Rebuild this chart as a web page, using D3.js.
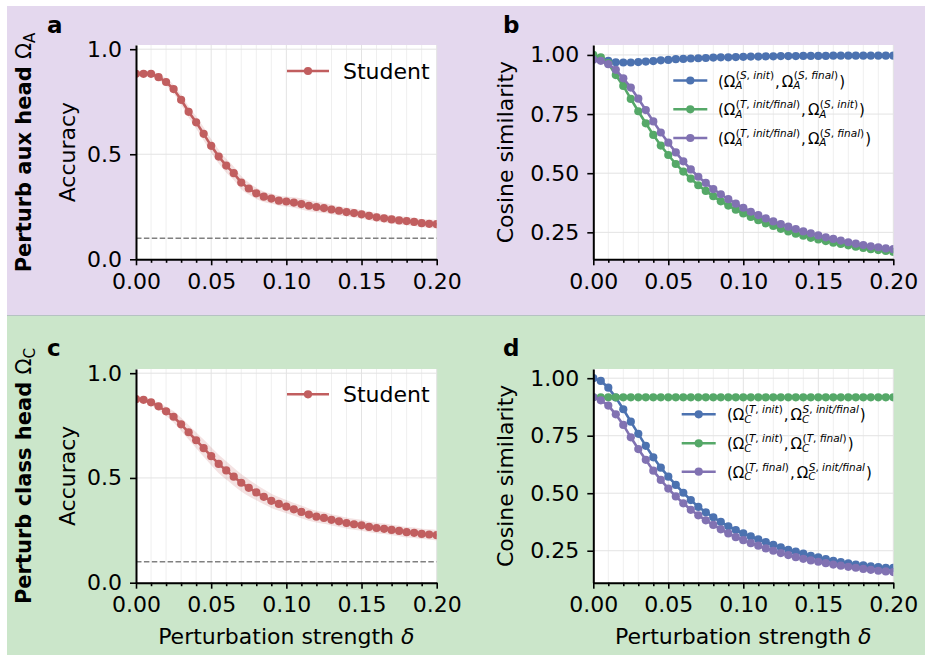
<!DOCTYPE html>
<html><head><meta charset="utf-8">
<script src="https://cdn.jsdelivr.net/npm/d3@7"></script>
<style>
body{margin:0;background:#fff}
text{font-family:"DejaVu Sans",sans-serif;fill:#000}
</style>
</head><body>
<svg id="chart" width="925" height="656"></svg>
<script>
// ---------------- DATA ----------------
const deltas = [0.000,0.005,0.010,0.015,0.020,0.025,0.030,0.035,0.040,0.045,
  0.050,0.055,0.060,0.065,0.070,0.075,0.080,0.085,0.090,0.095,
  0.100,0.105,0.110,0.115,0.120,0.125,0.130,0.135,0.140,0.145,
  0.150,0.155,0.160,0.165,0.170,0.175,0.180,0.185,0.190,0.195,0.200];
const xTicks = [0.00, 0.05, 0.10, 0.15, 0.20];
const accTicks = [0.0, 0.5, 1.0];
const cosTicks = [0.25, 0.50, 0.75, 1.00];
const chanceLevel = 0.1;

// panel a: student accuracy, perturbing aux head
const accAux = [0.883,0.883,0.883,0.867,0.844,0.810,0.759,0.702,0.652,0.597,
  0.540,0.489,0.446,0.410,0.365,0.337,0.314,0.298,0.289,0.279,
  0.275,0.270,0.263,0.255,0.249,0.244,0.237,0.231,0.225,0.220,
  0.214,0.207,0.200,0.195,0.190,0.185,0.182,0.178,0.172,0.169,0.167];
const accAuxBand = [0.012,0.012,0.013,0.015,0.018,0.021,0.024,0.027,0.029,0.031,
  0.032,0.033,0.033,0.032,0.031,0.029,0.027,0.025,0.024,0.024,
  0.024,0.025,0.026,0.026,0.025,0.024,0.023,0.022,0.021,0.021,
  0.021,0.021,0.020,0.020,0.020,0.020,0.020,0.020,0.020,0.020,0.020];
// panel c: student accuracy, perturbing class head
const accCls = [0.876,0.873,0.861,0.842,0.818,0.792,0.756,0.718,0.680,0.642,
  0.604,0.567,0.536,0.506,0.477,0.453,0.431,0.410,0.391,0.376,
  0.363,0.350,0.338,0.325,0.315,0.309,0.300,0.293,0.285,0.279,
  0.274,0.266,0.261,0.257,0.252,0.247,0.241,0.238,0.233,0.230,0.227];
const accClsBand = [0.010,0.011,0.014,0.018,0.022,0.027,0.031,0.035,0.038,0.041,
  0.043,0.044,0.044,0.043,0.042,0.040,0.038,0.036,0.034,0.033,
  0.032,0.031,0.030,0.029,0.028,0.028,0.027,0.027,0.026,0.026,
  0.026,0.025,0.025,0.025,0.025,0.025,0.025,0.025,0.025,0.025,0.025];

// panel b: cosine similarity, aux head
const cosA_SinitSfinal = [0.982,0.979,0.975,0.969,0.968,0.968,0.970,0.972,0.974,0.977,
  0.979,0.982,0.983,0.985,0.986,0.987,0.989,0.990,0.990,0.991,
  0.992,0.993,0.993,0.994,0.994,0.995,0.995,0.995,0.996,0.996,
  0.996,0.996,0.997,0.997,0.997,0.997,0.997,0.997,0.997,0.997,0.997];
const cosA_TSinit = [1.000,0.990,0.965,0.915,0.869,0.814,0.762,0.711,0.662,0.617,
  0.577,0.539,0.507,0.477,0.449,0.425,0.403,0.381,0.363,0.346,
  0.330,0.315,0.301,0.288,0.277,0.265,0.254,0.244,0.236,0.227,
  0.220,0.213,0.206,0.201,0.195,0.189,0.184,0.179,0.175,0.171,0.167];
const cosA_TSfinal = [0.980,0.975,0.961,0.937,0.901,0.862,0.815,0.767,0.719,0.672,
  0.629,0.588,0.550,0.516,0.485,0.459,0.433,0.411,0.390,0.371,
  0.354,0.337,0.323,0.309,0.296,0.285,0.274,0.264,0.254,0.246,
  0.237,0.229,0.222,0.215,0.208,0.202,0.196,0.191,0.187,0.182,0.179];

// panel d: cosine similarity, class head
const cosC_TinitS = [1.000,0.988,0.959,0.916,0.865,0.811,0.758,0.706,0.656,0.611,
  0.572,0.536,0.502,0.470,0.441,0.417,0.395,0.375,0.356,0.340,
  0.325,0.312,0.299,0.288,0.276,0.265,0.254,0.246,0.237,0.228,
  0.221,0.214,0.206,0.201,0.195,0.190,0.186,0.182,0.179,0.176,0.176];
const cosC_TinitTfinal = [0.917,0.917,0.917,0.917,0.917,0.917,0.917,0.917,0.917,0.917,
  0.917,0.917,0.917,0.917,0.917,0.917,0.917,0.917,0.917,0.917,
  0.917,0.917,0.917,0.917,0.917,0.917,0.917,0.917,0.917,0.917,
  0.917,0.917,0.917,0.917,0.917,0.917,0.917,0.917,0.917,0.917,0.917];
const cosC_TfinalS = [0.917,0.904,0.881,0.843,0.797,0.743,0.692,0.645,0.598,0.558,
  0.520,0.486,0.456,0.428,0.404,0.382,0.362,0.343,0.325,0.309,
  0.296,0.283,0.272,0.260,0.250,0.240,0.231,0.222,0.215,0.208,
  0.202,0.196,0.190,0.185,0.180,0.176,0.171,0.167,0.163,0.160,0.157];

// ---------------- STYLE ----------------
const RED = "#c15e5f", BLUE = "#4c72b0", GREEN = "#55a868", PURPLE = "#8172b2";
const FS = 22;
const R = 4.1, LW = 2.6;

const svg = d3.select("#chart");
// row backgrounds
svg.append("rect").attr("x",7).attr("y",6).attr("width",918).attr("height",309).attr("fill","#e4d8ee");
svg.append("rect").attr("x",7).attr("y",316).attr("width",918).attr("height",339).attr("fill","#cbe6ca");
svg.append("line").attr("x1",7).attr("x2",925).attr("y1",315.5).attr("y2",315.5).attr("stroke","#b5c2c2").attr("stroke-width",1);

// math text helper
function richParts(textEl, s) {
  const parts = s.split(/([(),\s]+)/).filter(p => p.length);
  parts.forEach(p => {
    textEl.append("tspan").style("font-style", /^[(),\s]+$/.test(p) ? "normal" : "italic").text(p);
  });
}
function mathLabel(g, x, y, tokens, fs) {
  let cx = x;
  tokens.forEach(tok => {
    if (tok.t !== undefined) {
      const t = g.append("text").attr("x", cx).attr("y", y).style("font-size", fs + "px").text(tok.t);
      cx += t.node().getComputedTextLength() + (tok.gap || 0);
    } else {
      let w = 0;
      const sfs = fs * 0.7;
      if (tok.sup) {
        const t = g.append("text").attr("x", cx + 0.5).attr("y", y - 7.2).style("font-size", sfs + "px");
        richParts(t, tok.sup);
        w = Math.max(w, t.node().getComputedTextLength());
      }
      if (tok.sub) {
        const t = g.append("text").attr("x", cx).attr("y", y + 2.2).style("font-size", sfs + "px").style("font-style","italic").text(tok.sub);
        w = Math.max(w, t.node().getComputedTextLength());
      }
      cx += w + 1.5;
    }
  });
}

function omegaPair(sub, sup1, sup2) {
  return [{t:"("},{t:"Ω"},{sup:sup1, sub:sub},{t:",", gap:2},{t:"Ω"},{sup:sup2, sub:sub},{t:")"}];
}

const panels = [
  {id:"a", left:136, right:436.7, top:45, bottom:259.3, ydom:[0,1.02], yticks:accTicks, yfmt:".1f", ylabel:"Accuracy",
   series:[{vals:accAux, band:accAuxBand, color:RED}], chance:true,
   legend:{type:"student", lx:287, ly:71}, letter:{x:47, y:33}, xlabel:false},
  {id:"b", left:593.3, right:893.3, top:45, bottom:259.3, ydom:[0.136,1.042], yticks:cosTicks, yfmt:".2f", ylabel:"Cosine similarity",
   series:[{vals:cosA_SinitSfinal, color:BLUE},{vals:cosA_TSinit, color:GREEN},{vals:cosA_TSfinal, color:PURPLE}],
   legend:{type:"math", lx:673.3, tx:718, ys:[80.5,109.3,138],
     labels:[omegaPair("A","(S, init)","(S, final)"), omegaPair("A","(T, init/final)","(S, init)"), omegaPair("A","(T, init/final)","(S, final)")]},
   letter:{x:503, y:33}, xlabel:false},
  {id:"c", left:136, right:436.7, top:369, bottom:582.7, ydom:[0,1.02], yticks:accTicks, yfmt:".1f", ylabel:"Accuracy",
   series:[{vals:accCls, band:accClsBand, color:RED}], chance:true,
   legend:{type:"student", lx:287, ly:394.3}, letter:{x:47, y:356}, xlabel:true},
  {id:"d", left:593.3, right:893.3, top:369, bottom:582.7, ydom:[0.111,1.04], yticks:cosTicks, yfmt:".2f", ylabel:"Cosine similarity",
   series:[{vals:cosC_TinitS, color:BLUE},{vals:cosC_TinitTfinal, color:GREEN},{vals:cosC_TfinalS, color:PURPLE}],
   legend:{type:"math", lx:681.7, tx:727, ys:[414.3,443.3,471.7],
     labels:[omegaPair("C","(T, init)","S, init/final"), omegaPair("C","(T, init)","(T, final)"), omegaPair("C","(T, final)","S, init/final")]},
   letter:{x:503, y:356}, xlabel:true}
];

panels.forEach(p => {
  const x = d3.scaleLinear().domain([0, 0.2]).range([p.left, p.right]);
  const y = d3.scaleLinear().domain(p.ydom).range([p.bottom, p.top]);
  const g = svg.append("g");
  g.append("rect").attr("x", p.left).attr("y", p.top).attr("width", p.right - p.left).attr("height", p.bottom - p.top).attr("fill", "#fff");

  // grid
  const minorX = d3.range(1, 20).map(i => i / 100).filter(v => Math.abs(v*20 - Math.round(v*20)) > 1e-6);
  g.selectAll(".mg").data(minorX).enter().append("line")
    .attr("x1", d => x(d)).attr("x2", d => x(d)).attr("y1", p.top).attr("y2", p.bottom)
    .attr("stroke", "#efefef").attr("stroke-width", 1);
  g.selectAll(".gx").data(xTicks).enter().append("line")
    .attr("x1", d => x(d)).attr("x2", d => x(d)).attr("y1", p.top).attr("y2", p.bottom)
    .attr("stroke", "#e3e3e3").attr("stroke-width", 1);
  g.selectAll(".gy").data(p.yticks).enter().append("line")
    .attr("x1", p.left).attr("x2", p.right).attr("y1", d => y(d)).attr("y2", d => y(d))
    .attr("stroke", "#e3e3e3").attr("stroke-width", 1);

  const clipId = "clip-" + p.id;
  svg.append("clipPath").attr("id", clipId).append("rect")
    .attr("x", p.left).attr("y", p.top).attr("width", p.right - p.left).attr("height", p.bottom - p.top);
  const pg = g.append("g").attr("clip-path", `url(#${clipId})`);

  if (p.chance) {
    pg.append("line").attr("x1", p.left).attr("x2", p.right).attr("y1", y(chanceLevel)).attr("y2", y(chanceLevel))
      .attr("stroke", "#808080").attr("stroke-width", 1.5).attr("stroke-dasharray", "5.5,2.4");
  }

  p.series.forEach(s => {
    const pts = deltas.map((d, i) => ({x: d, y: s.vals[i], b: s.band ? s.band[i] : 0}));
    if (s.band) {
      pg.append("path").datum(pts)
        .attr("d", d3.area().x(d => x(d.x)).y0(d => y(d.y - d.b)).y1(d => y(d.y + d.b)).curve(d3.curveMonotoneX))
        .attr("fill", s.color).attr("fill-opacity", 0.18);
    }
    pg.append("path").datum(pts)
      .attr("d", d3.line().x(d => x(d.x)).y(d => y(d.y)))
      .attr("fill", "none").attr("stroke", s.color).attr("stroke-width", LW);
    pg.selectAll(null).data(pts).enter().append("circle")
      .attr("cx", d => x(d.x)).attr("cy", d => y(d.y)).attr("r", R).attr("fill", s.color);
  });

  // axes
  const xa = g.append("g").attr("transform", `translate(0,${p.bottom})`)
    .call(d3.axisBottom(x).tickValues(xTicks).tickFormat(d3.format(".2f")).tickSize(6).tickSizeOuter(0).tickPadding(8));
  const xm = g.append("g").attr("transform", `translate(0,${p.bottom})`)
    .call(d3.axisBottom(x).tickValues(minorX).tickFormat("").tickSize(3.5).tickSizeOuter(0));
  xm.select(".domain").remove();
  const ya = g.append("g").attr("transform", `translate(${p.left},0)`)
    .call(d3.axisLeft(y).tickValues(p.yticks).tickFormat(d3.format(p.yfmt)).tickSize(6).tickSizeOuter(0).tickPadding(8));
  [xa, xm, ya].forEach(a => {
    a.selectAll("line").attr("stroke", "#000").attr("stroke-width", 1.6);
    a.selectAll(".domain").attr("stroke", "#000").attr("stroke-width", 2);
    a.selectAll("text").style("font-size", FS + "px").style("font-family", "DejaVu Sans").attr("fill", "#000");
  });

  // y label
  const cy = (p.top + p.bottom) / 2;
  const ylx = p.left - (p.ylabel === "Accuracy" ? 61 : 80.5);
  g.append("text").attr("transform", `translate(${ylx},${cy}) rotate(-90)`)
    .attr("text-anchor", "middle").style("font-size", FS + "px").text(p.ylabel);

  if (p.xlabel) {
    const t = g.append("text").attr("x", (p.left + p.right) / 2).attr("y", 644)
      .attr("text-anchor", "middle").style("font-size", FS + "px");
    t.append("tspan").text("Perturbation strength ");
    t.append("tspan").style("font-style", "italic").text("δ");
  }

  // panel letter
  g.append("text").attr("x", p.letter.x).attr("y", p.letter.y)
    .style("font-size", "23px").style("font-weight", "bold").text(p.id);

  // legend
  if (p.legend.type === "student") {
    const L = p.legend;
    g.append("line").attr("x1", L.lx).attr("x2", L.lx + 42).attr("y1", L.ly).attr("y2", L.ly)
      .attr("stroke", RED).attr("stroke-width", LW);
    g.append("circle").attr("cx", L.lx + 21).attr("cy", L.ly).attr("r", R).attr("fill", RED);
    g.append("text").attr("x", L.lx + 56).attr("y", L.ly + 7.5).style("font-size", FS + "px").text("Student");
  } else {
    const L = p.legend;
    p.series.forEach((s, i) => {
      const ly = L.ys[i];
      g.append("line").attr("x1", L.lx).attr("x2", L.lx + 34).attr("y1", ly).attr("y2", ly)
        .attr("stroke", s.color).attr("stroke-width", LW);
      g.append("circle").attr("cx", L.lx + 17).attr("cy", ly).attr("r", R).attr("fill", s.color);
      mathLabel(g.append("g"), L.tx, ly + 6, L.labels[i], 15);
    });
  }
});

// row labels
function rowLabel(cy, word, sub) {
  const t = svg.append("text").attr("transform", `translate(31,${cy}) rotate(-90)`)
    .attr("text-anchor", "middle").style("font-size", "21px");
  t.append("tspan").style("font-weight", "bold").text(word + " ");
  t.append("tspan").text("Ω");
  t.append("tspan").attr("dy", 4).style("font-size", "15px").text(sub);
}
rowLabel(152.5, "Perturb aux head", "A");
rowLabel(476, "Perturb class head", "C");
</script>
</body></html>
